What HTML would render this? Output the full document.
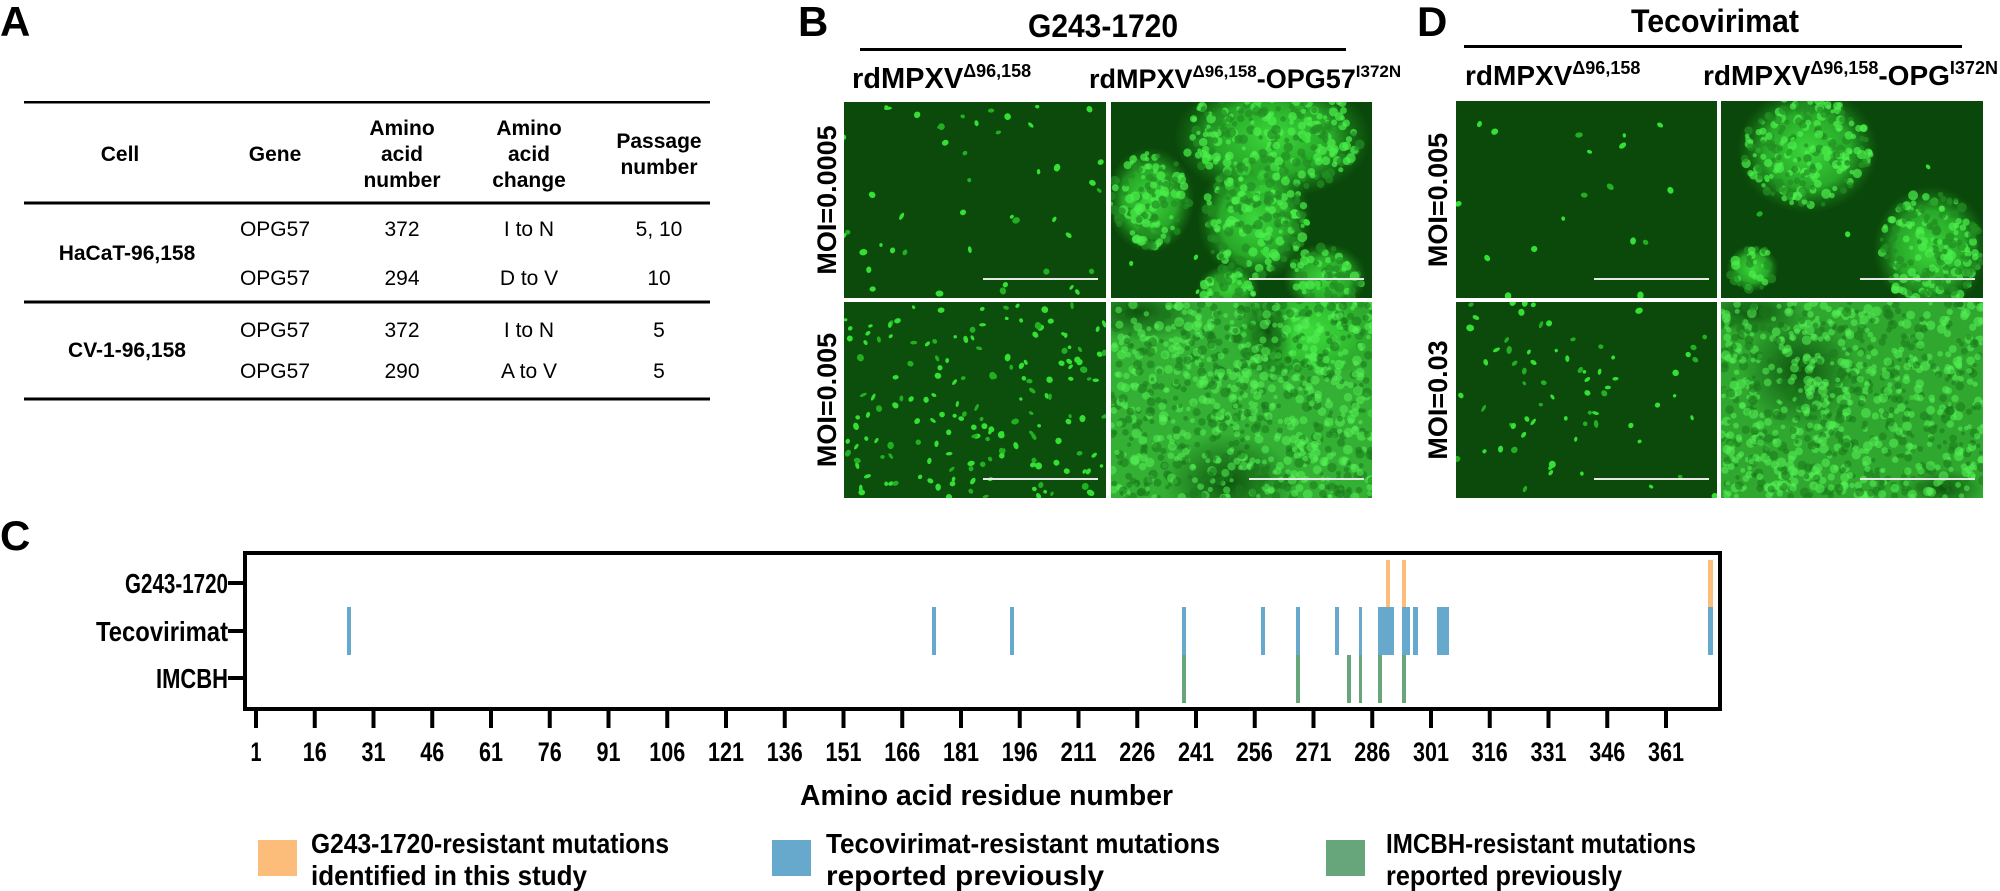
<!DOCTYPE html>
<html><head><meta charset="utf-8"><style>
html,body{margin:0;padding:0;background:#fff;}
svg{display:block;}
.n{font-family:"Liberation Sans Narrow","Liberation Sans",sans-serif;font-weight:bold;}
.s{font-family:"Liberation Sans",sans-serif;}
</style></head><body>
<svg id="sv" width="2000" height="891" viewBox="0 0 2000 891" xmlns="http://www.w3.org/2000/svg">
<defs>
<clipPath id="cB1"><rect x="844" y="102" width="262" height="196"/></clipPath>
<clipPath id="cB2"><rect x="1111" y="102" width="261" height="196"/></clipPath>
<clipPath id="cB3"><rect x="844" y="302" width="262" height="196"/></clipPath>
<clipPath id="cB4"><rect x="1111" y="302" width="261" height="196"/></clipPath>
<clipPath id="cD1"><rect x="1456" y="101" width="261" height="197"/></clipPath>
<clipPath id="cD2"><rect x="1721" y="101" width="262" height="197"/></clipPath>
<clipPath id="cD3"><rect x="1456" y="302" width="261" height="196"/></clipPath>
<clipPath id="cD4"><rect x="1721" y="302" width="262" height="196"/></clipPath>
<radialGradient id="glow"><stop offset="0" stop-color="#3ee03e" stop-opacity="0.95"/><stop offset="0.6" stop-color="#30c030" stop-opacity="0.8"/><stop offset="1" stop-color="#1e8a1e" stop-opacity="0"/></radialGradient>
<radialGradient id="dark"><stop offset="0" stop-color="#0a4a0a" stop-opacity="0.9"/><stop offset="1" stop-color="#0a4a0a" stop-opacity="0"/></radialGradient>
</defs>

<text x="0" y="36" class="s" font-weight="bold" font-size="42">A</text>
<g class="s" font-size="21" text-anchor="middle">
<rect x="24" y="101" width="686" height="2.5" fill="#000"/>
<rect x="24" y="201.5" width="686" height="3" fill="#000"/>
<rect x="24" y="300.5" width="686" height="3" fill="#000"/>
<rect x="24" y="397.5" width="686" height="3" fill="#000"/>
<g font-weight="bold">
<text x="120" y="161">Cell</text>
<text x="275" y="161">Gene</text>
<text x="402" y="135">Amino</text><text x="402" y="161">acid</text><text x="402" y="187">number</text>
<text x="529" y="135">Amino</text><text x="529" y="161">acid</text><text x="529" y="187">change</text>
<text x="659" y="148">Passage</text><text x="659" y="174">number</text>
<text x="127" y="260">HaCaT-96,158</text>
<text x="127" y="357">CV-1-96,158</text>
</g>
<text x="275" y="236">OPG57</text><text x="402" y="236">372</text><text x="529" y="236">I to N</text><text x="659" y="236">5, 10</text>
<text x="275" y="285">OPG57</text><text x="402" y="285">294</text><text x="529" y="285">D to V</text><text x="659" y="285">10</text>
<text x="275" y="337">OPG57</text><text x="402" y="337">372</text><text x="529" y="337">I to N</text><text x="659" y="337">5</text>
<text x="275" y="378">OPG57</text><text x="402" y="378">290</text><text x="529" y="378">A to V</text><text x="659" y="378">5</text>
</g>

<text x="798" y="36" class="s" font-weight="bold" font-size="42">B</text>
<text x="1103" y="37" class="n" font-size="32" text-anchor="middle" textLength="150" lengthAdjust="spacingAndGlyphs">G243-1720</text>
<rect x="860" y="48" width="486" height="3" fill="#000"/>
<text x="852" y="88" class="n" font-size="29">rdMPXV<tspan font-size="18" dy="-11">Δ96,158</tspan></text>
<text x="1089" y="88" class="n" font-size="27">rdMPXV<tspan font-size="17" dy="-11">Δ96,158</tspan><tspan dy="11">-OPG57</tspan><tspan font-size="17" dy="-11">I372N</tspan></text>

<text x="1417" y="36" class="s" font-weight="bold" font-size="42">D</text>
<text x="1715" y="32" class="n" font-size="32" text-anchor="middle" textLength="168" lengthAdjust="spacingAndGlyphs">Tecovirimat</text>
<rect x="1464" y="45" width="498" height="3" fill="#000"/>
<text x="1465" y="85" class="n" font-size="28">rdMPXV<tspan font-size="18" dy="-11">Δ96,158</tspan></text>
<text x="1703" y="85" class="n" font-size="28">rdMPXV<tspan font-size="18" dy="-11">Δ96,158</tspan><tspan dy="11">-OPG</tspan><tspan font-size="18" dy="-11">I372N</tspan></text>

<g class="s" font-weight="bold" font-size="27" text-anchor="middle">
<text transform="translate(836,200) rotate(-90)">MOI=0.0005</text>
<text transform="translate(836,400) rotate(-90)">MOI=0.005</text>
<text transform="translate(1447,200) rotate(-90)">MOI=0.005</text>
<text transform="translate(1447,400) rotate(-90)">MOI=0.03</text>
</g>

<g id="imgs"></g>

<text x="0" y="550" class="s" font-weight="bold" font-size="42">C</text>
<g id="bars"></g>
<rect x="245" y="553" width="1475" height="156" fill="none" stroke="#000" stroke-width="4"/>
<g fill="#000">
<rect x="228" y="581" width="17" height="4"/>
<rect x="228" y="629" width="17" height="4"/>
<rect x="228" y="676" width="17" height="4"/>
</g>
<g class="n" font-size="28">
<text x="125" y="593" textLength="103" lengthAdjust="spacingAndGlyphs">G243-1720</text>
<text x="96" y="641" textLength="132" lengthAdjust="spacingAndGlyphs">Tecovirimat</text>
<text x="156" y="688" textLength="72" lengthAdjust="spacingAndGlyphs">IMCBH</text>
</g>
<g id="xt"></g>
<text x="800" y="805" class="n" font-size="29" textLength="373" lengthAdjust="spacingAndGlyphs">Amino acid residue number</text>

<rect x="258" y="840" width="39" height="36" fill="#fdbd7a"/>
<rect x="772" y="840" width="39" height="36" fill="#67a9cc"/>
<rect x="1326" y="840" width="39" height="36" fill="#67a57a"/>
<g class="n" font-size="28">
<text x="311" y="853" textLength="358" lengthAdjust="spacingAndGlyphs">G243-1720-resistant mutations</text>
<text x="311" y="885" textLength="276" lengthAdjust="spacingAndGlyphs">identified in this study</text>
<text x="826" y="853" textLength="394" lengthAdjust="spacingAndGlyphs">Tecovirimat-resistant mutations</text>
<text x="826" y="885" textLength="278" lengthAdjust="spacingAndGlyphs">reported previously</text>
<text x="1386" y="853" textLength="310" lengthAdjust="spacingAndGlyphs">IMCBH-resistant mutations</text>
<text x="1386" y="885" textLength="236" lengthAdjust="spacingAndGlyphs">reported previously</text>
</g>
</svg>
<script>
(function(){
var NS="http://www.w3.org/2000/svg";
function el(t,a,p){var e=document.createElementNS(NS,t);for(var k in a)e.setAttribute(k,a[k]);p.appendChild(e);return e;}
var bars=document.getElementById('bars');
var O="#fdbd7a",B="#67a9cc",G="#67a57a";
[[1386,4],[1402,4],[1708,5]].forEach(function(b){el('rect',{x:b[0],y:560,width:b[1],height:47,fill:O},bars);});
[[347,4],[932,4],[1010,4],[1182,4],[1261,4],[1296,4],[1335,4],[1359,3],[1378,16],[1402,8],[1413,5],[1437,12],[1708,5]].forEach(function(b){el('rect',{x:b[0],y:607,width:b[1],height:48,fill:B},bars);});
[[1182,4],[1296,4],[1347,4],[1359,3],[1378,4],[1402,4]].forEach(function(b){el('rect',{x:b[0],y:655,width:b[1],height:48,fill:G},bars);});
var xt=document.getElementById('xt');
for(var i=0;i<25;i++){var x=256+i*58.75;var r=1+15*i;
el('rect',{x:x-2,y:709,width:4,height:19,fill:'#000'},xt);
var s=String(r);var tl=s.length==1?11:(s.length==2?24:36);
var t=el('text',{x:x-tl/2,y:761,'class':'n','font-size':'27',textLength:tl,lengthAdjust:'spacingAndGlyphs'},xt);t.textContent=r;}
var g=document.getElementById('imgs');
var seed=12345;function rnd(){seed|=0;seed=seed+0x6D2B79F5|0;var t=Math.imul(seed^seed>>>15,1|seed);t=t+Math.imul(t^t>>>7,61|t)^t;return((t^t>>>14)>>>0)/4294967296;}
function img(id,x,y,w,h,base,opts){
var gg=el('g',{'clip-path':'url(#c'+id+')'},g);
el('rect',{x:x,y:y,width:w,height:h,fill:base},gg);
(opts.blobs||[]).forEach(function(b){
el('ellipse',{cx:x+b[0]*w,cy:y+b[1]*h,rx:b[2]*w,ry:b[3]*h,fill:'url(#glow)'},gg);
for(var k=0;k<b[4];k++){var a=rnd()*6.283,rr=Math.sqrt(rnd());
el('circle',{cx:x+b[0]*w+Math.cos(a)*rr*b[2]*w*0.9,cy:y+b[1]*h+Math.sin(a)*rr*b[3]*h*0.9,r:2+rnd()*3,fill:rnd()<0.5?'#4cf04c':'#228f22',opacity:0.7},gg);}
});
(opts.darks||[]).forEach(function(b){el('ellipse',{cx:x+b[0]*w,cy:y+b[1]*h,rx:b[2]*w,ry:b[3]*h,fill:'url(#dark)'},gg);});
if(opts.texture){for(var k=0;k<opts.texture;k++){el('circle',{cx:x+rnd()*w,cy:y+rnd()*h,r:2+rnd()*3,fill:rnd()<0.55?'#55f255':'#1a7a1a',opacity:0.55},gg);}}
for(var k=0;k<(opts.dots||0);k++){var cx=x+rnd()*w,cy=y+rnd()*h;
el('ellipse',{cx:cx,cy:cy,rx:1.5+rnd()*2.5,ry:1.5+rnd()*2,fill:rnd()<0.7?'#33e033':'#22b022',transform:'rotate('+(rnd()*180)+' '+cx+' '+cy+')'},gg);}
el('rect',{x:x+w-123,y:y+h-20,width:115,height:2,fill:'#e8e8e8'},gg);
}
img('B1',844,102,262,196,'#0b4a0b',{dots:45});
img('B2',1111,102,261,196,'#0a470a',{blobs:[[0.62,0.18,0.38,0.32,300],[0.15,0.5,0.17,0.27,130],[0.55,0.6,0.22,0.32,170],[0.82,0.9,0.16,0.18,70],[0.45,0.95,0.12,0.12,40]],dots:10});
img('B3',844,302,262,196,'#0c4e0c',{dots:170});
img('B4',1111,302,261,196,'#34b034',{texture:900,blobs:[[0.75,0.15,0.3,0.25,80]],darks:[[0.1,0.05,0.25,0.15],[0.45,0.92,0.25,0.25],[0.6,0.15,0.1,0.25]]});
img('D1',1456,101,261,197,'#0b490b',{dots:18});
img('D2',1721,101,262,197,'#0a470a',{blobs:[[0.33,0.25,0.27,0.32,240],[0.8,0.75,0.22,0.32,200],[0.12,0.85,0.1,0.12,30]],dots:6});
img('D3',1456,302,261,196,'#0b4a0b',{dots:70});
img('D4',1721,302,262,196,'#30a830',{texture:900,darks:[[0.3,0.35,0.22,0.3],[0.12,0.05,0.2,0.12],[0.85,0.95,0.15,0.1]]});
})();
</script>
</body></html>
